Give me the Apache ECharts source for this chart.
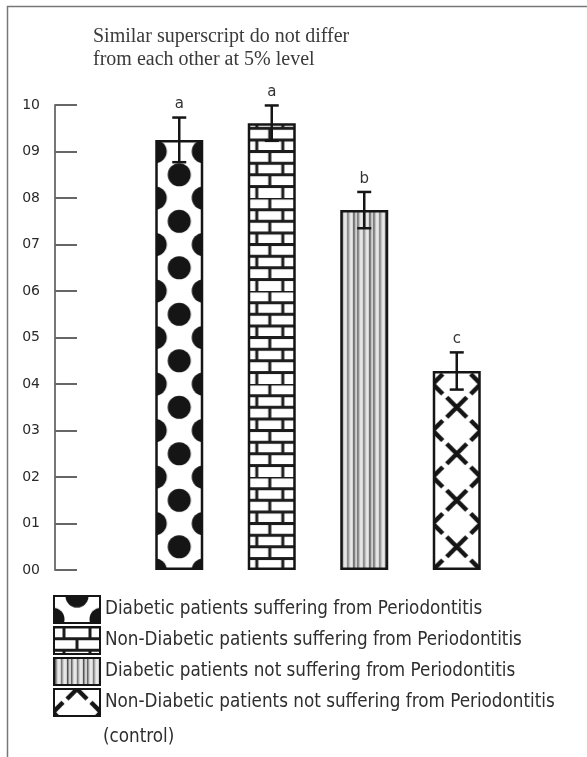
<!DOCTYPE html>
<html>
<head>
<meta charset="utf-8">
<script src="https://cdn.jsdelivr.net/npm/echarts@6/dist/echarts.min.js"></script>
<style>
  html, body { margin: 0; padding: 0; background: #fff; }
  #chart { width: 587px; height: 757px; }
</style>
</head>
<body>
<div id="chart"></div>
<script>
const groups = [
  'Diabetic patients suffering from Periodontitis',
  'Non-Diabetic patients suffering from Periodontitis',
  'Diabetic patients not suffering from Periodontitis',
  'Non-Diabetic patients not suffering from Periodontitis'
];
const means = [9.25, 9.61, 7.74, 4.28];
const errors = [0.48, 0.38, 0.39, 0.40];
const letters = ['a', 'a', 'b', 'c'];
const yTickLabels = ['00', '01', '02', '03', '04', '05', '06', '07', '08', '09', '10'];

const INK = '#151515';
const LEGEND_FONT = '"DejaVu Sans Condensed", "DejaVu Sans"';

// pattern tiles
const mkCanvas = (w, h) => {
  const c = document.createElement('canvas');
  c.width = w; c.height = h;
  return c;
};

const dotsTile = () => {
  const c = mkCanvas(48, 93), g = c.getContext('2d');
  g.fillStyle = '#fff'; g.fillRect(0, 0, 48, 93);
  g.fillStyle = INK;
  const pts = [[24, 23.25], [24, 69.75], [0, 0], [48, 0], [0, 46.5], [48, 46.5], [0, 93], [48, 93]];
  pts.forEach(([x, y]) => { g.beginPath(); g.arc(x, y, 11.5, 0, Math.PI * 2); g.fill(); });
  return c;
};

const brickTile = () => {
  const c = mkCanvas(52, 93), g = c.getContext('2d');
  const rh = 93 / 8;
  g.fillStyle = '#fff'; g.fillRect(0, 0, 52, 93);
  g.strokeStyle = '#1c1c1c'; g.lineWidth = 3;
  for (let r = 0; r < 8; r++) {
    const y = r * rh;
    g.beginPath(); g.moveTo(0, y); g.lineTo(52, y); g.stroke();
    const xs = r % 2 === 0 ? [0, 26, 52] : [13, 39];
    xs.forEach(x => { g.beginPath(); g.moveTo(x, y); g.lineTo(x, y + rh); g.stroke(); });
  }
  return c;
};

const stripeTile = () => {
  const c = mkCanvas(16, 4), g = c.getContext('2d');
  g.fillStyle = '#d0d0d0'; g.fillRect(0, 0, 16, 4);
  [[1, 1.5, '#666'], [4.5, 1, '#fff'], [7, 1.5, '#7a7a7a'], [10.5, 1, '#fff'], [13, 1.5, '#555']]
    .forEach(([x, w, col]) => { g.fillStyle = col; g.fillRect(x, 0, w, 4); });
  return c;
};

const crossTile = () => {
  const c = mkCanvas(48, 93), g = c.getContext('2d');
  g.fillStyle = '#fff'; g.fillRect(0, 0, 48, 93);
  g.strokeStyle = INK; g.lineWidth = 4.5; g.lineCap = 'butt';
  const pts = [[24, 23.25], [24, 69.75], [0, 0], [48, 0], [0, 46.5], [48, 46.5], [0, 93], [48, 93]];
  const a = 10;
  pts.forEach(([x, y]) => {
    g.beginPath();
    g.moveTo(x - a, y - a); g.lineTo(x + a, y + a);
    g.moveTo(x + a, y - a); g.lineTo(x - a, y + a);
    g.stroke();
  });
  return c;
};

const tiles = [dotsTile(), brickTile(), stripeTile(), crossTile()];

const chart = echarts.init(document.getElementById('chart'));

const gridTop = 105, gridLeft = 133;

const pattern = (i, x, y) => ({ image: tiles[i], repeat: 'repeat', x: x, y: y });

// legend icons are drawn in the item's local coords
const legendOffsets = [[-1, -23.25], [10, 0], [0, 0], [-1, -23.25]];

const buildOption = (centers) => ({
  animation: false,
  title: {
    text: 'Similar superscript do not differ\nfrom each other at 5% level',
    left: 93,
    top: 25,
    padding: 0,
    textStyle: {
      fontFamily: 'Liberation Serif',
      fontSize: 20,
      fontWeight: 'normal',
      lineHeight: 23,
      color: '#3a3a3a'
    }
  },
  grid: { left: gridLeft, top: gridTop, width: 370, height: 465 },
  legend: {
    orient: 'vertical',
    left: 53,
    top: 595,
    padding: 0,
    itemWidth: 46,
    itemHeight: 27,
    itemGap: 2,
    icon: 'rect',
    textStyle: { fontFamily: LEGEND_FONT, fontSize: 18.7, color: '#2e2e2e' },
    data: groups.map((name, i) => ({
      name,
      itemStyle: {
        color: pattern(i, legendOffsets[i][0], legendOffsets[i][1]),
        borderColor: INK,
        borderWidth: 2
      }
    }))
  },
  xAxis: {
    type: 'category',
    data: groups,
    show: false
  },
  yAxis: {
    type: 'value',
    min: 0,
    max: 10,
    interval: 1,
    offset: 78,
    splitLine: { show: false },
    axisLine: { show: true, lineStyle: { color: '#777', width: 2 } },
    axisTick: { show: true, inside: true, length: 22, lineStyle: { color: '#666', width: 2 } },
    axisLabel: {
      margin: 15,
      fontFamily: 'DejaVu Sans',
      fontSize: 14,
      color: '#2a2a2a',
      formatter: v => yTickLabels[v]
    }
  },
  series: groups.map((name, i) => ({
    name,
    type: 'bar',
    stack: 'all',
    barWidth: 48,
    data: means.map((m, j) => (j === i ? m : '-')),
    itemStyle: {
      color: centers
        ? pattern(i, i === 1 ? centers[i] - 2 : centers[i] - 24, gridTop)
        : '#fff',
      borderColor: INK,
      borderWidth: 2.5
    }
  })).concat([{
    type: 'custom',
    name: 'err',
    z: 5,
    data: means.map((m, i) => [i, m - errors[i], m + errors[i], letters[i]]),
    renderItem: (params, api) => {
      const x = api.coord([api.value(0), 0])[0];
      const lo = api.coord([api.value(0), api.value(1)])[1];
      const hi = api.coord([api.value(0), api.value(2)])[1];
      const cap = 7;
      const st = { stroke: INK, lineWidth: 2.5 };
      return {
        type: 'group',
        children: [
          { type: 'line', shape: { x1: x, y1: lo, x2: x, y2: hi }, style: st },
          { type: 'line', shape: { x1: x - cap, y1: hi, x2: x + cap, y2: hi }, style: st },
          { type: 'line', shape: { x1: x - cap, y1: lo, x2: x + cap, y2: lo }, style: st },
          {
            type: 'text',
            style: {
              text: letters[params.dataIndex],
              x: x, y: hi - 13,
              align: 'center', verticalAlign: 'middle',
              font: '15px "DejaVu Sans"',
              fill: '#333'
            }
          }
        ]
      };
    }
  }]),
  graphic: [
    {
      type: 'rect',
      silent: true,
      shape: { x: 7.5, y: 6.5, width: 700, height: 800 },
      style: { fill: null, stroke: '#777', lineWidth: 1.5 }
    },
    {
      type: 'text',
      left: 103,
      top: 728,
      style: { text: '(control)', font: '18.7px ' + LEGEND_FONT, fill: '#2e2e2e' }
    }
  ]
});

chart.setOption(buildOption(null));
const centers = groups.map((g, i) => chart.convertToPixel({ xAxisIndex: 0 }, i));
chart.setOption(buildOption(centers));
</script>
</body>
</html>
